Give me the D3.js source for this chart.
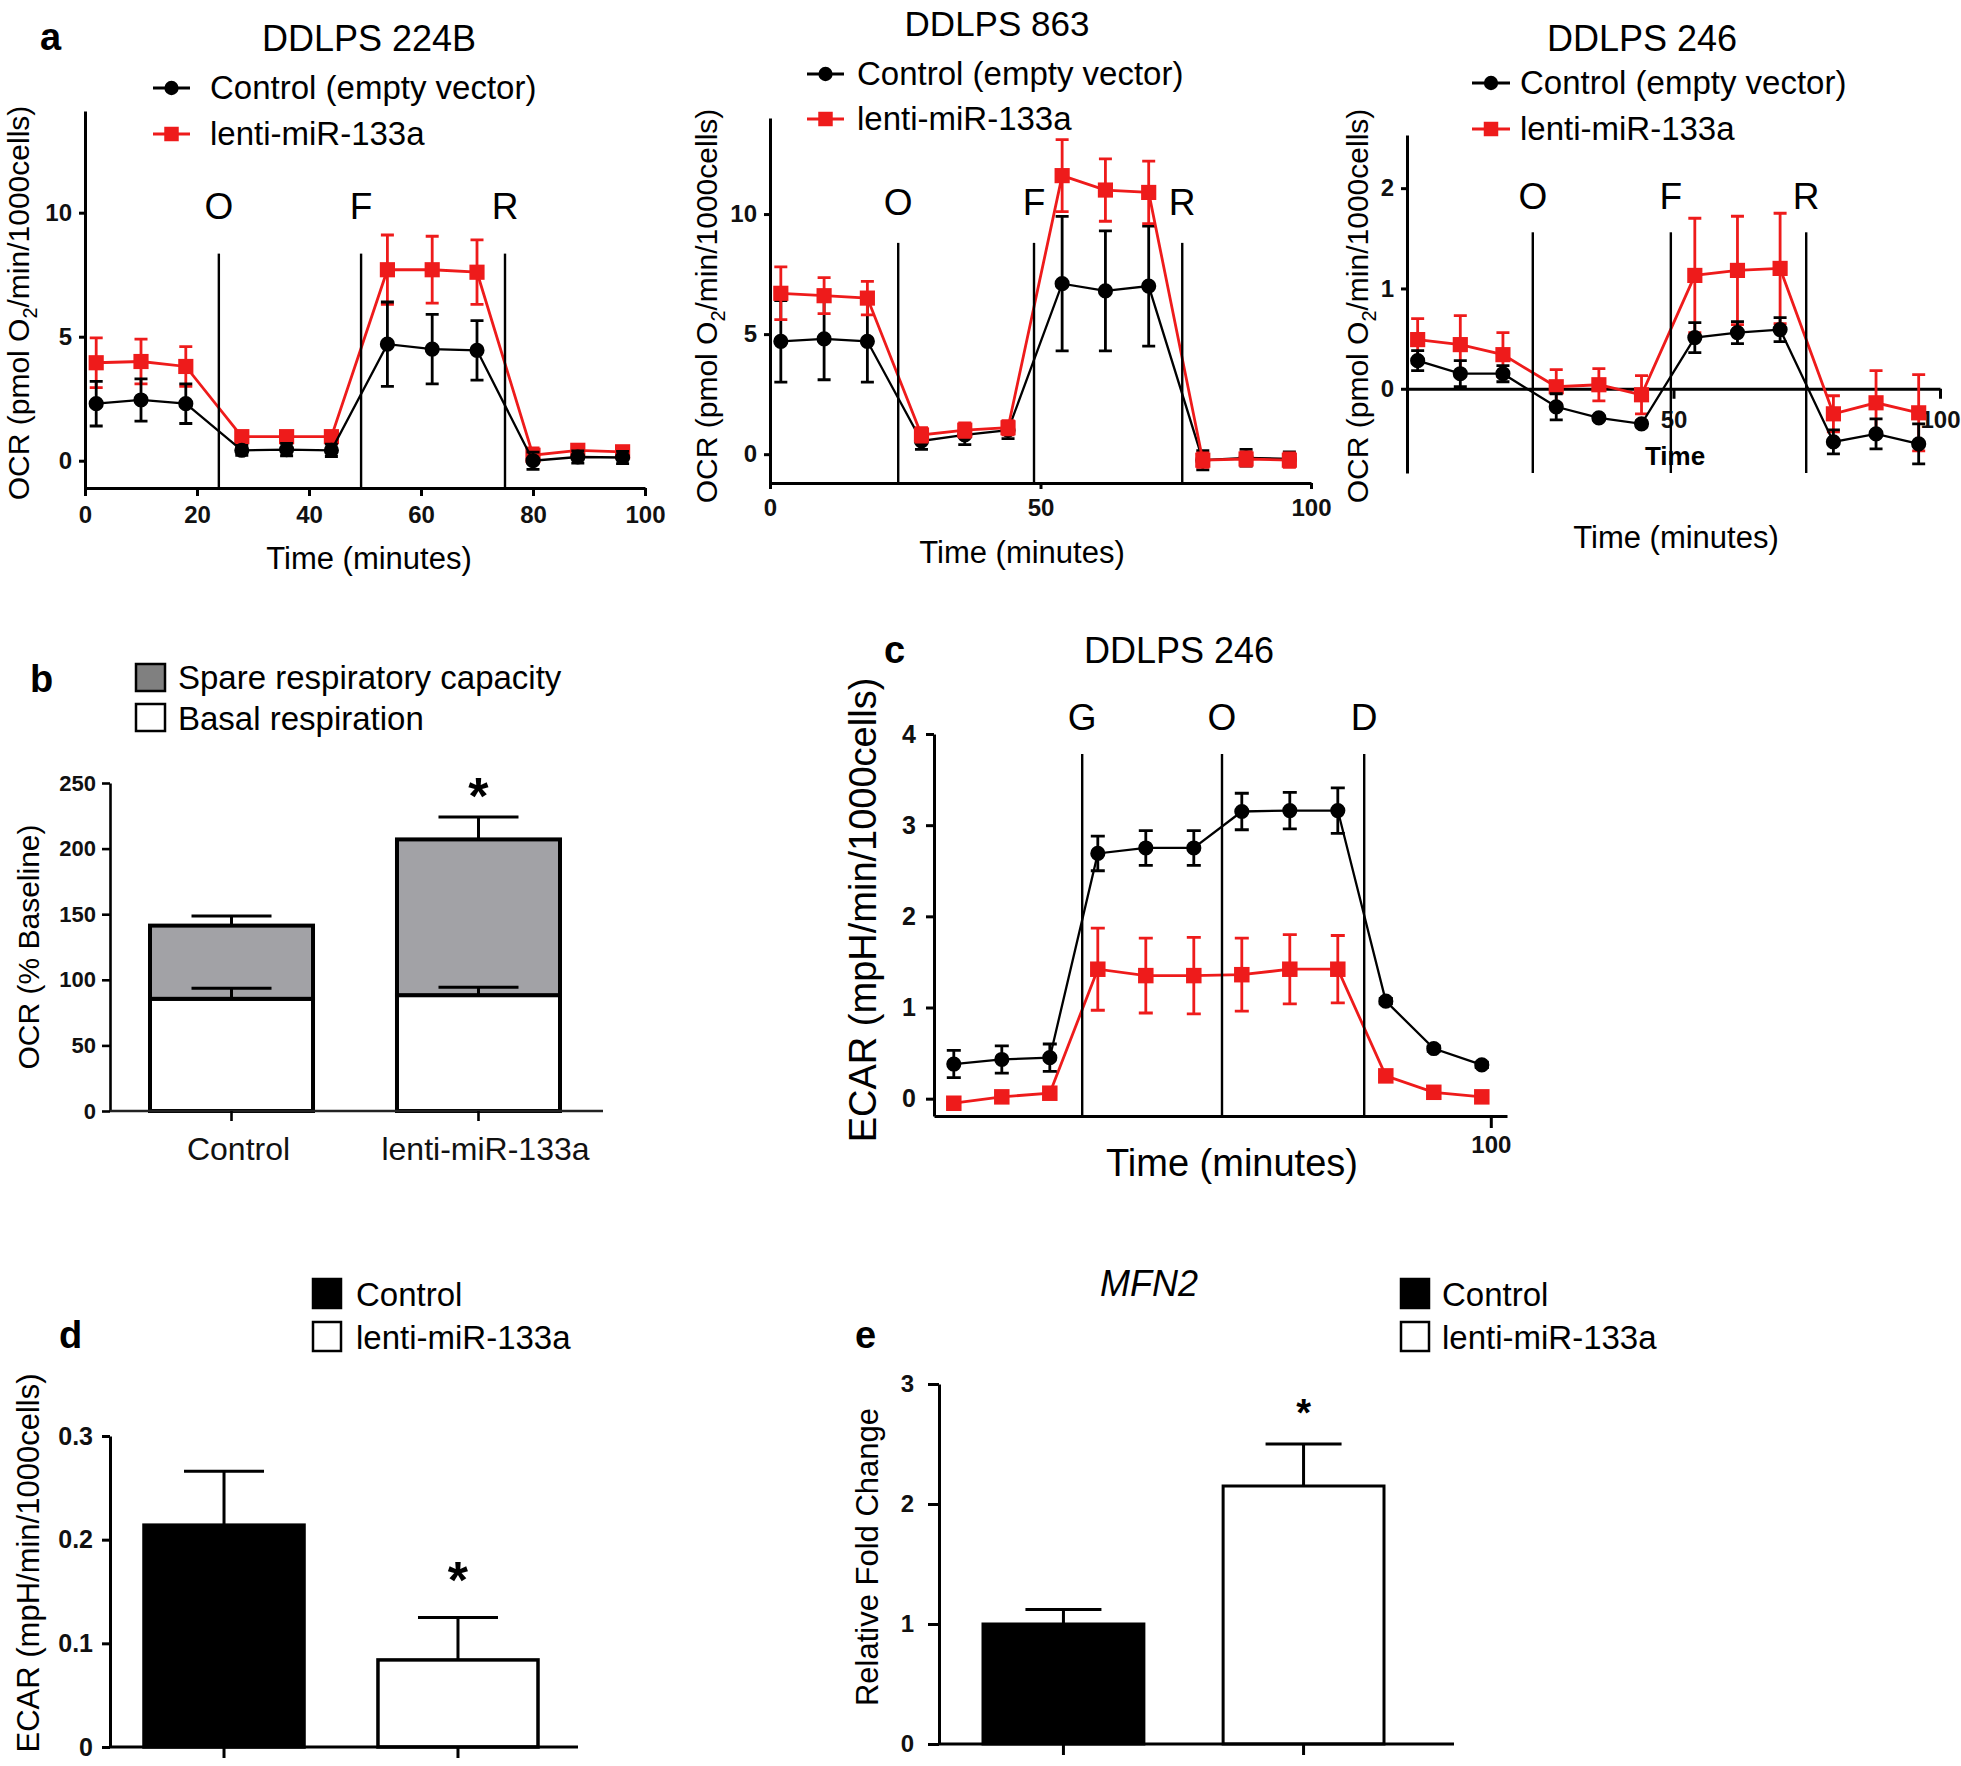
<!DOCTYPE html>
<html>
<head>
<meta charset="utf-8">
<script src="https://cdn.jsdelivr.net/npm/d3@7"></script>
<style>
body { margin: 0; background: #fff; }
</style>
</head>
<body>
<script>
// ---- data ----
var timesA = [2, 10, 18, 28, 36, 44, 54, 62, 70, 80, 88, 96];

// a: DDLPS 224B
var a1Ctrl = [2.3, 2.45, 2.3, 0.42, 0.45, 0.42, 4.7, 4.5, 4.45, 0.0, 0.15, 0.13];
var a1CtrlErr = [0.9, 0.85, 0.8, 0.2, 0.25, 0.25, 1.7, 1.4, 1.2, 0.35, 0.25, 0.25];
var a1Lenti = [3.95, 4.0, 3.8, 0.97, 0.97, 0.97, 7.7, 7.7, 7.6, 0.22, 0.42, 0.36];
var a1LentiErr = [1.0, 0.9, 0.8, 0.15, 0.15, 0.15, 1.4, 1.35, 1.3, 0.3, 0.2, 0.2];
var a1Inject = [23.9, 49.3, 75];

// a: DDLPS 863
var a2Ctrl = [4.7, 4.8, 4.7, 0.55, 0.8, 1.0, 7.1, 6.8, 7.0, -0.25, -0.15, -0.2];
var a2CtrlErr = [1.7, 1.7, 1.7, 0.35, 0.4, 0.35, 2.8, 2.5, 2.5, 0.4, 0.35, 0.3];
var a2Lenti = [6.7, 6.6, 6.5, 0.8, 1.0, 1.1, 11.6, 11.0, 10.9, -0.25, -0.2, -0.25];
var a2LentiErr = [1.1, 0.75, 0.7, 0.3, 0.3, 0.3, 1.5, 1.3, 1.3, 0.3, 0.3, 0.3];
var a2Inject = [23.7, 48.8, 76.2];

// a: DDLPS 246
var a3Ctrl = [0.28, 0.15, 0.15, -0.18, -0.29, -0.35, 0.51, 0.56, 0.59, -0.53, -0.45, -0.55];
var a3CtrlErr = [0.1, 0.13, 0.08, 0.13, 0.02, 0.03, 0.15, 0.11, 0.12, 0.12, 0.15, 0.2];
var a3Lenti = [0.49, 0.44, 0.34, 0.02, 0.04, -0.06, 1.13, 1.18, 1.2, -0.25, -0.14, -0.24];
var a3LentiErr = [0.21, 0.29, 0.22, 0.17, 0.16, 0.19, 0.57, 0.54, 0.55, 0.18, 0.32, 0.38];
var a3Inject = [23.6, 49.5, 74.9];
var injectOFR = ["O", "F", "R"];

// b: OCR % baseline
var groups = ["Control", "lenti-miR-133a"];
var basal = [85.5, 88.3];
var basalErr = [8, 6];
var spare = [55.8, 118.7];
var totalErr = [7.3, 17];

// c: ECAR DDLPS 246
var timesC = [10.5, 18.5, 26.5, 34.5, 42.5, 50.5, 58.5, 66.5, 74.5, 82.5, 90.5, 98.5];
var cCtrl = [0.38, 0.43, 0.45, 2.69, 2.75, 2.75, 3.15, 3.16, 3.16, 1.07, 0.55, 0.37];
var cCtrlErr = [0.15, 0.15, 0.15, 0.19, 0.19, 0.19, 0.2, 0.2, 0.25, 0.03, 0.03, 0.03];
var cLenti = [-0.05, 0.02, 0.06, 1.42, 1.35, 1.35, 1.36, 1.42, 1.42, 0.25, 0.07, 0.02];
var cLentiErr = [0.03, 0.05, 0.05, 0.45, 0.41, 0.42, 0.4, 0.38, 0.37, 0.03, 0.03, 0.03];
var cInject = [31.9, 55.2, 78.9];
var injectGOD = ["G", "O", "D"];

// d: ECAR bars
var dVals = [0.214, 0.084];
var dErr = [0.052, 0.041];

// e: MFN2 fold change
var eVals = [1.0, 2.15];
var eErr = [0.12, 0.35];

var FONT = '"Liberation Sans", Arial, Helvetica, sans-serif';
var RED = "#ee1b1b";
var intFmt = d3.format("d");

var svg = d3.select("body").append("svg")
	.attr("width", 1961).attr("height", 1766)
	.style("font-family", FONT);

function label(x, y, s, size, opt) {
	opt = opt || {};
	var t = svg.append("text").attr("x", x).attr("y", y)
		.attr("font-size", size).attr("fill", "#000")
		.attr("text-anchor", opt.anchor || "start").text(s);
	if (opt.bold) t.attr("font-weight", "bold");
	if (opt.italic) t.attr("font-style", "italic");
	return t;
}

function vTitle(cx, cy, s, size) {
	return svg.append("text")
		.attr("transform", "translate(" + cx + "," + cy + ") rotate(-90)")
		.attr("text-anchor", "middle").attr("dy", "0.35em")
		.attr("font-size", size).attr("fill", "#000").text(s);
}

function ocrTitle(cx, cy) {
	var t = svg.append("text")
		.attr("transform", "translate(" + cx + "," + cy + ") rotate(-90)")
		.attr("text-anchor", "middle").attr("dy", "0.35em")
		.attr("font-size", 30).attr("fill", "#000");
	t.append("tspan").text("OCR (pmol O");
	t.append("tspan").attr("font-size", 20).attr("dy", 8).text("2");
	t.append("tspan").attr("dy", -8).text("/min/1000cells)");
}

function styleAxis(g, size, sw, bold) {
	g.select(".domain").attr("stroke", "#000").attr("stroke-width", sw);
	g.selectAll(".tick line").attr("stroke", "#000").attr("stroke-width", sw);
	g.selectAll(".tick text").attr("font-size", size)
		.attr("font-weight", bold ? "bold" : "normal")
		.attr("font-family", FONT).attr("fill", "#111");
}

function marker(g, shape, size) {
	return g.append("path")
		.attr("d", d3.symbol().type(shape == "circle" ? d3.symbolCircle : d3.symbolSquare).size(size));
}

function drawSeries(g, x, y, ts, vals, errs, color, shape, size, cap) {
	var s = g.append("g");
	s.selectAll("path.eb").data(vals).enter().append("path")
		.attr("class", "eb")
		.attr("d", function(d, i) {
			var xx = x(ts[i]), y1 = y(d + errs[i]), y2 = y(d - errs[i]);
			return "M" + (xx - cap) + "," + y1 + "H" + (xx + cap) +
				"M" + xx + "," + y1 + "V" + y2 +
				"M" + (xx - cap) + "," + y2 + "H" + (xx + cap);
		})
		.attr("stroke", color).attr("stroke-width", 2.8).attr("fill", "none");
	s.append("path").datum(vals)
		.attr("d", d3.line().x(function(d, i) { return x(ts[i]); }).y(function(d) { return y(d); }))
		.attr("stroke", color).attr("stroke-width", color == RED ? 2.8 : 2.3).attr("fill", "none");
	s.selectAll("path.mk").data(vals).enter().append("path")
		.attr("class", "mk")
		.attr("d", d3.symbol().type(shape == "circle" ? d3.symbolCircle : d3.symbolSquare).size(size))
		.attr("transform", function(d, i) { return "translate(" + x(ts[i]) + "," + y(d) + ")"; })
		.attr("fill", color);
}

function injections(x, y, marks, names, top, bottom, labelY, size) {
	var g = svg.append("g");
	g.selectAll("line").data(marks).enter().append("line")
		.attr("x1", function(d) { return x(d); }).attr("x2", function(d) { return x(d); })
		.attr("y1", y(top)).attr("y2", y(bottom))
		.attr("stroke", "#000").attr("stroke-width", 2.4);
	g.selectAll("text").data(marks).enter().append("text")
		.attr("x", function(d) { return x(d); }).attr("y", labelY)
		.attr("text-anchor", "middle").attr("font-size", size).attr("fill", "#000")
		.text(function(d, i) { return names[i]; });
}

function lineLegend(x1, x2, tx, rows) {
	rows.forEach(function(r) {
		svg.append("line").attr("x1", x1).attr("x2", x2).attr("y1", r.y).attr("y2", r.y)
			.attr("stroke", r.color).attr("stroke-width", 3);
		marker(svg, r.shape, r.size).attr("transform", "translate(" + ((x1 + x2) / 2) + "," + r.y + ")")
			.attr("fill", r.color);
		label(tx, r.y + 11, r.text, 33);
	});
}

function boxLegend(x, tx, rows) {
	rows.forEach(function(r) {
		svg.append("rect").attr("x", x).attr("y", r.y).attr("width", r.w).attr("height", r.h)
			.attr("fill", r.fill).attr("stroke", "#000").attr("stroke-width", 2.5);
		label(tx, r.base, r.text, 33);
	});
}

// ---------- panel a ----------
function ocrPanel(p) {
	var x = d3.scaleLinear().domain([0, 100]).range(p.xr);
	var y = d3.scaleLinear().domain(p.yd).range(p.yr);
	var g = svg.append("g");
	var xa = g.append("g").attr("transform", "translate(0," + y(p.xAxisAt) + ")")
		.call(d3.axisBottom(x).tickValues(p.xTicks).tickFormat(intFmt).tickSize(p.xTickSize).tickPadding(p.xPad).tickSizeOuter(0));
	styleAxis(xa, 24, 3, true);
	var ya = g.append("g").attr("transform", "translate(" + p.xr[0] + ",0)")
		.call(d3.axisLeft(y).tickValues(p.yTicks).tickFormat(intFmt).tickSize(6).tickPadding(7).tickSizeOuter(0));
	styleAxis(ya, 24, 3, true);
	injections(x, y, p.inject, injectOFR, p.injTop, p.yd[0], p.injLabelY, 37);
	if (p.redOnTop) {
		drawSeries(g, x, y, timesA, p.ctrl, p.ctrlErr, "#000", "circle", 180, 6.5);
		drawSeries(g, x, y, timesA, p.lenti, p.lentiErr, RED, "square", 230, 6.5);
	} else {
		drawSeries(g, x, y, timesA, p.lenti, p.lentiErr, RED, "square", 230, 6.5);
		drawSeries(g, x, y, timesA, p.ctrl, p.ctrlErr, "#000", "circle", 180, 6.5);
	}
	return { x: x, y: y };
}

label(40, 50, "a", 38, { bold: true });

ocrPanel({ xr: [85, 645], yd: [-1.1, 14.1], yr: [488, 111], xAxisAt: -1.1,
	xTicks: [0, 20, 40, 60, 80, 100], xTickSize: 8, xPad: 10, yTicks: [0, 5, 10],
	inject: a1Inject, injTop: 8.35, injLabelY: 219,
	ctrl: a1Ctrl, ctrlErr: a1CtrlErr, lenti: a1Lenti, lentiErr: a1LentiErr, redOnTop: false });
label(369, 51, "DDLPS 224B", 36, { anchor: "middle" });
lineLegend(153, 190, 210, [
	{ y: 88, color: "#000", shape: "circle", size: 160, text: "Control (empty vector)" },
	{ y: 134, color: RED, shape: "square", size: 210, text: "lenti-miR-133a" }]);
label(369, 569, "Time (minutes)", 31, { anchor: "middle" });
ocrTitle(18, 303);

ocrPanel({ xr: [770, 1311], yd: [-1.2, 14.0], yr: [483, 118], xAxisAt: -1.2,
	xTicks: [0, 50, 100], xTickSize: 6, xPad: 10, yTicks: [0, 5, 10],
	inject: a2Inject, injTop: 8.8, injLabelY: 215,
	ctrl: a2Ctrl, ctrlErr: a2CtrlErr, lenti: a2Lenti, lentiErr: a2LentiErr, redOnTop: true });
label(997, 36, "DDLPS 863", 35, { anchor: "middle" });
lineLegend(807, 844, 857, [
	{ y: 74, color: "#000", shape: "circle", size: 160, text: "Control (empty vector)" },
	{ y: 119, color: RED, shape: "square", size: 210, text: "lenti-miR-133a" }]);
label(1022, 563, "Time (minutes)", 31, { anchor: "middle" });
ocrTitle(706, 306);

ocrPanel({ xr: [1407, 1940], yd: [-0.84, 2.53], yr: [473, 135], xAxisAt: 0,
	xTicks: [50, 100], xTickSize: 10, xPad: 12, yTicks: [0, 1, 2],
	inject: a3Inject, injTop: 1.56, injLabelY: 209,
	ctrl: a3Ctrl, ctrlErr: a3CtrlErr, lenti: a3Lenti, lentiErr: a3LentiErr, redOnTop: false });
label(1642, 51, "DDLPS 246", 36, { anchor: "middle" });
lineLegend(1472, 1510, 1520, [
	{ y: 83, color: "#000", shape: "circle", size: 160, text: "Control (empty vector)" },
	{ y: 129, color: RED, shape: "square", size: 210, text: "lenti-miR-133a" }]);
label(1675, 465, "Time", 26, { anchor: "middle", bold: true });
label(1676, 548, "Time (minutes)", 31, { anchor: "middle" });
ocrTitle(1357, 306);

// ---------- panel b ----------
label(30, 692, "b", 38, { bold: true });
boxLegend(136, 178, [
	{ y: 664, w: 29, h: 27, fill: "#808080", base: 689, text: "Spare respiratory capacity" },
	{ y: 704, w: 29, h: 27, fill: "#fff", base: 730, text: "Basal respiration" }]);

var bx = d3.scaleBand().domain(groups).range([150, 560]).paddingInner(0.34).paddingOuter(0);
var by = d3.scaleLinear().domain([0, 250]).range([1111, 783]);
var bg = svg.append("g");
bg.selectAll("rect.basal").data(groups).enter().append("rect")
	.attr("x", function(d) { return bx(d); }).attr("width", bx.bandwidth())
	.attr("y", function(d, i) { return by(basal[i]); })
	.attr("height", function(d, i) { return by(0) - by(basal[i]); })
	.attr("fill", "#fff").attr("stroke", "#000").attr("stroke-width", 4);
bg.selectAll("rect.spare").data(groups).enter().append("rect")
	.attr("x", function(d) { return bx(d); }).attr("width", bx.bandwidth())
	.attr("y", function(d, i) { return by(basal[i] + spare[i]); })
	.attr("height", function(d, i) { return by(basal[i]) - by(basal[i] + spare[i]); })
	.attr("fill", "#a2a2a6").attr("stroke", "#000").attr("stroke-width", 4);
function upperErr(g, x, y, vals, errs, capW, sw) {
	g.selectAll(null).data(vals).enter().append("path")
		.attr("d", function(d, i) {
			var c = x(groups[i]) + x.bandwidth() / 2, top = y(d + errs[i]);
			return "M" + c + "," + y(d) + "V" + top + "M" + (c - capW / 2) + "," + top + "H" + (c + capW / 2);
		})
		.attr("stroke", "#000").attr("stroke-width", sw).attr("fill", "none");
}
upperErr(bg, bx, by, basal, basalErr, 80, 3);
upperErr(bg, bx, by, basal.map(function(d, i) { return d + spare[i]; }), totalErr, 80, 3);
var bya = bg.append("g").attr("transform", "translate(110,0)")
	.call(d3.axisLeft(by).tickValues([0, 50, 100, 150, 200, 250]).tickSize(8).tickPadding(6).tickSizeOuter(0));
styleAxis(bya, 22, 2.6, true);
bg.append("line").attr("x1", 110).attr("x2", 603).attr("y1", 1111).attr("y2", 1111)
	.attr("stroke", "#222").attr("stroke-width", 2.6);
var bxa = bg.append("g").attr("transform", "translate(0,1111)")
	.call(d3.axisBottom(bx).tickSize(10).tickPadding(16).tickSizeOuter(0));
bxa.select(".domain").remove();
styleAxis(bxa, 32, 2.6, false);
bxa.selectAll(".tick text").attr("dx", 7);
label(bx(groups[1]) + bx.bandwidth() / 2, 814, "*", 52, { anchor: "middle", bold: true });
vTitle(28, 947, "OCR (% Baseline)", 30);

// ---------- panel c ----------
label(884, 663, "c", 38, { bold: true });
label(1179, 663, "DDLPS 246", 36, { anchor: "middle" });
var cx = d3.scaleLinear().domain([7.2, 102.7]).range([934, 1507]);
var cy = d3.scaleLinear().domain([-0.19, 4]).range([1116, 734]);
var cg = svg.append("g");
var cxa = cg.append("g").attr("transform", "translate(0,1116)")
	.call(d3.axisBottom(cx).tickValues([100]).tickFormat(intFmt).tickSize(12).tickPadding(8).tickSizeOuter(0));
styleAxis(cxa, 24, 3, true);
var cya = cg.append("g").attr("transform", "translate(934,0)")
	.call(d3.axisLeft(cy).tickValues([0, 1, 2, 3, 4]).tickFormat(intFmt).tickSize(8).tickPadding(10).tickSizeOuter(0));
styleAxis(cya, 25, 3, true);
injections(cx, cy, cInject, injectGOD, 3.78, -0.19, 730, 37);
drawSeries(cg, cx, cy, timesC, cLenti, cLentiErr, RED, "square", 240, 7);
drawSeries(cg, cx, cy, timesC, cCtrl, cCtrlErr, "#000", "circle", 180, 7);
label(1232, 1176, "Time (minutes)", 38, { anchor: "middle" });
vTitle(863, 910, "ECAR (mpH/min/1000cells)", 38);

// ---------- panel d ----------
label(59, 1348, "d", 38, { bold: true });
boxLegend(313, 356, [
	{ y: 1279, w: 28, h: 29, fill: "#000", base: 1306, text: "Control" },
	{ y: 1322, w: 28, h: 29, fill: "#fff", base: 1349, text: "lenti-miR-133a" }]);
var dx = d3.scaleBand().domain(groups).range([144, 538]).paddingInner(0.316).paddingOuter(0);
var dy = d3.scaleLinear().domain([0, 0.3]).range([1747, 1436]);
var dg = svg.append("g");
upperErr(dg, dx, dy, dVals, dErr, 80, 3);
dg.selectAll("rect").data(groups).enter().append("rect")
	.attr("x", function(d) { return dx(d); }).attr("width", dx.bandwidth())
	.attr("y", function(d, i) { return dy(dVals[i]); })
	.attr("height", function(d, i) { return dy(0) - dy(dVals[i]); })
	.attr("fill", function(d, i) { return i == 0 ? "#000" : "#fff"; })
	.attr("stroke", "#000").attr("stroke-width", 3.5);
var dya = dg.append("g").attr("transform", "translate(110,0)")
	.call(d3.axisLeft(dy).tickValues([0, 0.1, 0.2, 0.3]).tickFormat(function(d) { return d == 0 ? "0" : d3.format(".1f")(d); })
		.tickSize(8).tickPadding(9).tickSizeOuter(0));
styleAxis(dya, 25, 3, true);
dg.append("line").attr("x1", 110).attr("x2", 578).attr("y1", 1747).attr("y2", 1747)
	.attr("stroke", "#000").attr("stroke-width", 3);
var dxa = dg.append("g").attr("transform", "translate(0,1747)")
	.call(d3.axisBottom(dx).tickSize(11).tickFormat("").tickSizeOuter(0));
dxa.select(".domain").remove();
styleAxis(dxa, 10, 3, false);
label(dx(groups[1]) + dx.bandwidth() / 2, 1598, "*", 52, { anchor: "middle", bold: true });
vTitle(28, 1563, "ECAR (mpH/min/1000cells)", 31);

// ---------- panel e ----------
label(855, 1348, "e", 38, { bold: true });
label(1149, 1296, "MFN2", 36, { anchor: "middle", italic: true });
boxLegend(1401, 1442, [
	{ y: 1279, w: 28, h: 29, fill: "#000", base: 1306, text: "Control" },
	{ y: 1322, w: 28, h: 29, fill: "#fff", base: 1349, text: "lenti-miR-133a" }]);
var ex = d3.scaleBand().domain(groups).range([983, 1384]).paddingInner(0.33).paddingOuter(0);
var ey = d3.scaleLinear().domain([0, 3]).range([1744, 1384]);
var eg = svg.append("g");
upperErr(eg, ex, ey, eVals, eErr, 76, 3);
eg.selectAll("rect").data(groups).enter().append("rect")
	.attr("x", function(d) { return ex(d); }).attr("width", ex.bandwidth())
	.attr("y", function(d, i) { return ey(eVals[i]); })
	.attr("height", function(d, i) { return ey(0) - ey(eVals[i]); })
	.attr("fill", function(d, i) { return i == 0 ? "#000" : "#fff"; })
	.attr("stroke", "#000").attr("stroke-width", 3);
var eya = eg.append("g").attr("transform", "translate(939,0)")
	.call(d3.axisLeft(ey).tickValues([0, 1, 2, 3]).tickFormat(intFmt).tickSize(11).tickPadding(14).tickSizeOuter(0));
styleAxis(eya, 24, 3, true);
eg.append("line").attr("x1", 939).attr("x2", 1454).attr("y1", 1744).attr("y2", 1744)
	.attr("stroke", "#000").attr("stroke-width", 3);
var exa = eg.append("g").attr("transform", "translate(0,1744)")
	.call(d3.axisBottom(ex).tickSize(11).tickFormat("").tickSizeOuter(0));
exa.select(".domain").remove();
styleAxis(exa, 10, 3, false);
label(ex(groups[1]) + ex.bandwidth() / 2, 1426, "*", 38, { anchor: "middle", bold: true });
vTitle(867, 1557, "Relative Fold Change", 31);
</script>
</body>
</html>
